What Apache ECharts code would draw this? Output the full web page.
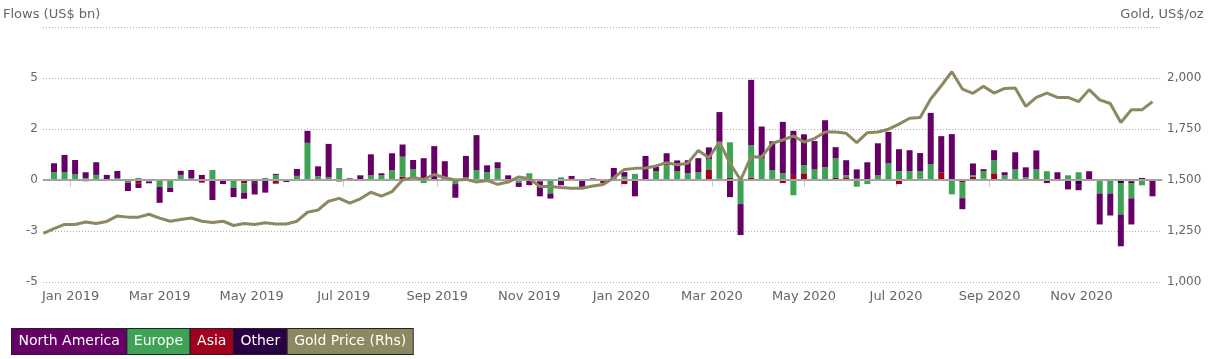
<!DOCTYPE html>
<html>
<head>
<meta charset="utf-8">
<script src="https://cdn.jsdelivr.net/npm/echarts@6/dist/echarts.min.js"></script>
<style>
html,body{margin:0;padding:0;background:#fff;}
#chart{width:1211px;height:359px;}
</style>
</head>
<body>
<div id="chart"></div>
<script>
// ---- categories: weekly observations (Fridays), first week ending 2018-12-21 ----
const firstWeek = [2018, 11, 21];
const weekCount = 105;
const monthNames = ['Jan','Feb','Mar','Apr','May','Jun','Jul','Aug','Sep','Oct','Nov','Dec'];

// ---- series values (US$ bn) ----
const northAmerica = [
 0.44,0.84,0.70,0.28,0.62,0.25,0.34,-0.41,-0.23,-0.08,
 -0.79,-0.21,0.20,0.39,0.20,-0.98,-0.20,-0.46,-0.30,-0.52,
 -0.62,0.05,-0.10,0.34,0.59,0.49,1.64,0.05,0.08,0.23,
 1.03,0.10,0.83,0.60,0.46,1.07,1.66,0.80,-0.67,1.05,
 1.71,0.34,0.30,0.23,-0.21,-0.25,-0.72,-0.25,-0.26,0.10,
 -0.34,0.02,0.00,0.49,0.23,-0.80,1.18,0.21,0.57,0.52,
 0.64,0.69,0.59,1.46,-0.84,-1.52,3.20,1.57,1.41,2.52,
 2.16,1.52,1.39,2.31,0.54,0.74,0.44,0.87,1.57,1.54,
 1.08,1.03,0.89,2.52,1.77,2.25,-0.54,0.57,0.10,0.49,
 0.15,0.84,0.49,0.93,-0.15,0.35,-0.46,-0.30,0.43,-1.52,
 -1.08,-1.56,-1.28,0.10,-0.80
];
const europe = [
 0.38,0.39,0.28,0.10,0.25,0.00,0.10,-0.13,0.10,-0.08,
 -0.33,-0.38,0.25,0.10,0.05,0.49,0.03,-0.33,-0.46,0.00,
 0.10,0.25,0.00,0.20,1.82,0.18,0.13,0.52,0.00,0.00,
 0.23,0.23,0.48,0.98,0.37,-0.15,0.00,0.00,-0.20,0.13,
 0.49,0.38,0.52,0.00,-0.13,0.33,0.00,-0.61,0.13,0.00,
 0.00,0.08,0.05,0.10,0.16,0.30,0.00,0.44,0.74,0.44,
 0.33,0.38,0.52,1.80,1.75,-1.18,1.59,1.00,0.49,0.33,
 -0.75,0.39,0.52,0.62,0.97,0.10,-0.33,-0.20,0.23,0.82,
 0.43,0.43,0.36,0.77,0.00,-0.70,-0.79,0.08,0.36,0.64,
 0.18,0.52,0.13,0.44,0.43,0.00,0.23,0.38,-0.05,-0.66,
 -0.66,-1.54,-0.75,-0.26,0.03
];
const asia = [
 -0.05,-0.05,0.00,-0.06,0.00,-0.05,-0.05,0.00,-0.16,0.00,
 0.00,0.00,-0.05,-0.05,-0.13,0.00,0.00,-0.05,-0.16,-0.11,
 0.00,-0.18,0.00,-0.05,-0.05,0.00,0.00,-0.07,0.00,0.00,
 -0.05,0.00,0.00,0.16,0.15,0.00,-0.05,0.12,0.00,0.00,
 0.00,0.00,0.05,0.00,0.00,0.00,-0.08,-0.05,0.00,0.10,
 0.00,-0.05,-0.16,-0.05,-0.20,0.00,-0.05,0.00,0.00,0.00,
 0.00,0.00,0.49,0.05,0.10,0.00,0.12,-0.04,-0.05,-0.15,
 0.25,0.33,0.00,-0.05,0.10,0.13,0.08,0.00,-0.05,-0.05,
 -0.20,0.00,0.07,0.00,0.38,0.00,-0.10,0.16,0.07,0.33,
 0.05,0.00,0.00,0.08,0.00,0.03,0.00,0.00,0.00,0.03,
 0.00,0.00,-0.08,0.00,0.00
];
const other = [
 0,0,0,0,0,0,0,0,0,0,
 0,0,0,0,0,0,0,0,0,-0.08,
 0,0,0,0,0,0,0,0,0,0,
 0,-0.05,0,0,0,0,0,0,0,0,
 0,0,0,0,0,0,0,0,0,0,
 0,0,0,0,0,0,0,0,-0.03,0,
 0,0,-0.05,0.02,0,0,0,0.05,0,0,
 0,0,0,0,0,0,0,0,0,0,
 0,-0.05,0,-0.03,0,0,0,0,0,0,
 0,0,0,-0.05,0,0,0,-0.20,0,0,
 0,-0.15,-0.07,0,0
];
// ---- gold price (US$/oz); first value is the week before the first bar ----
const goldPrice = [
 1238,
 1262,1282,1282,1294,1287,1297,1324,1318,1318,1332,
 1313,1298,1306,1314,1298,1292,1298,1277,1287,1282,
 1290,1284,1284,1298,1342,1353,1396,1410,1387,1408,
 1440,1421,1443,1500,1513,1503,1527,1511,1500,1503,
 1490,1498,1479,1490,1515,1506,1468,1468,1463,1460,
 1460,1471,1478,1511,1552,1557,1559,1569,1585,1575,
 1582,1645,1609,1686,1582,1500,1614,1613,1680,1696,
 1716,1686,1703,1735,1735,1729,1683,1732,1735,1749,
 1774,1803,1806,1897,1962,2031,1946,1925,1959,1926,
 1949,1951,1861,1905,1926,1905,1905,1884,1943,1893,
 1875,1782,1844,1844,1884
];
// ---- axis tick settings ----
const flowTicks = {min: -5, max: 7.5, step: 2.5};
const priceTicks = {min: 1000, max: 2250, step: 250};

const weeks = [];
for (let i = 0; i < weekCount; i++) {
  weeks.push(new Date(firstWeek[0], firstWeek[1], firstWeek[2] + 7 * i).getTime());
}
const goldDates = [new Date(firstWeek[0], firstWeek[1], firstWeek[2] - 7).getTime()].concat(weeks);
const pair = (arr) => arr.map((v, i) => [weeks[i], v]);

const axisMin = new Date(2018, 11, 15, 17).getTime();
const axisMax = new Date(2020, 11, 22, 7).getTime();
const DAY = 86400000;

const FONT = 'DejaVu Sans';
const colors = {na: '#660066', eu: '#3ea354', as: '#a0001e', ot: '#2a0045', gold: '#8c8862'};
const gridDots = {type: [1, 2], color: '#b0b0b0', width: 1};

const chart = echarts.init(document.getElementById('chart'), null, {renderer: 'canvas'});

const barCommon = {type: 'bar', stack: 'flows', barWidth: 6, yAxisIndex: 0, xAxisIndex: 0, z: 2};

chart.setOption({
  animation: false,
  textStyle: {fontFamily: FONT},
  grid: {left: 43, right: 49, top: 27, bottom: 77, containLabel: false},
  legend: {
    left: 2, top: 323, itemGap: -5, itemWidth: 0, itemHeight: 0, icon: 'rect',
    selectedMode: false,
    textStyle: {color: '#fff', fontSize: 14, fontFamily: FONT, lineHeight: 15,
                padding: [5, 6.5, 5, 6.5], borderColor: '#222', borderWidth: 1},
    data: [
      {name: 'North America', textStyle: {backgroundColor: colors.na}},
      {name: 'Europe', textStyle: {backgroundColor: colors.eu}},
      {name: 'Asia', textStyle: {backgroundColor: colors.as}},
      {name: 'Other', textStyle: {backgroundColor: colors.ot}},
      {name: 'Gold Price (Rhs)', textStyle: {backgroundColor: colors.gold}}
    ]
  },
  xAxis: {
    type: 'time', min: axisMin, max: axisMax,
    minInterval: 61 * DAY, maxInterval: 61 * DAY,
    splitLine: {show: false},
    axisLine: {show: true, lineStyle: {color: '#9a9a9a', width: 1}},
    axisTick: {show: true, length: 7, lineStyle: {color: '#cccccc'}},
    axisLabel: {
      color: '#666', fontSize: 13, fontFamily: FONT, margin: 8,
      showMinLabel: false, showMaxLabel: false,
      formatter: (v) => { const d = new Date(v); return monthNames[d.getMonth()] + ' ' + d.getFullYear(); }
    }
  },
  yAxis: [
    {
      type: 'value', min: flowTicks.min, max: flowTicks.max, interval: flowTicks.step,
      name: 'Flows (US$ bn)', nameLocation: 'end', nameGap: 6,
      nameTextStyle: {color: '#666', fontSize: 13, fontFamily: FONT, align: 'left', padding: [0, 0, 0, -40]},
      axisLine: {show: false}, axisTick: {show: false},
      splitLine: {show: true, showMinLine: true, showMaxLine: true, lineStyle: gridDots},
      axisLabel: {color: '#666', fontSize: 12, fontFamily: FONT, margin: 5,
        formatter: (v) => v === flowTicks.max ? '' : String(Math.floor(v))}
    },
    {
      type: 'value', min: priceTicks.min, max: priceTicks.max, interval: priceTicks.step,
      name: 'Gold, US$/oz', nameLocation: 'end', nameGap: 6,
      nameTextStyle: {color: '#666', fontSize: 13, fontFamily: FONT},
      axisLine: {show: false}, axisTick: {show: false},
      splitLine: {show: false},
      axisLabel: {color: '#666', fontSize: 12, fontFamily: FONT, margin: 5,
        formatter: (v) => v === priceTicks.max ? '' : v.toLocaleString('en-US')}
    }
  ],
  series: [
    Object.assign({}, barCommon, {name: 'Asia', data: pair(asia), itemStyle: {color: colors.as}}),
    Object.assign({}, barCommon, {name: 'Other', data: pair(other), itemStyle: {color: colors.ot}}),
    Object.assign({}, barCommon, {name: 'Europe', data: pair(europe), itemStyle: {color: colors.eu}}),
    Object.assign({}, barCommon, {name: 'North America', data: pair(northAmerica), itemStyle: {color: colors.na},
      markLine: {silent: true, symbol: 'none', label: {show: false}, z: 5,
        lineStyle: {color: '#a3a3a3', type: 'solid', width: 2},
        data: [{yAxis: 0}, {yAxis: flowTicks.max, lineStyle: gridDots}]}}),
    {
      name: 'Gold Price (Rhs)', type: 'line', yAxisIndex: 1, z: 6,
      data: goldPrice.map((v, i) => [goldDates[i], v]),
      symbol: 'none', showSymbol: false, clip: true,
      lineStyle: {color: colors.gold, width: 3},
      itemStyle: {color: colors.gold}
    }
  ]
});
</script>
</body>
</html>
